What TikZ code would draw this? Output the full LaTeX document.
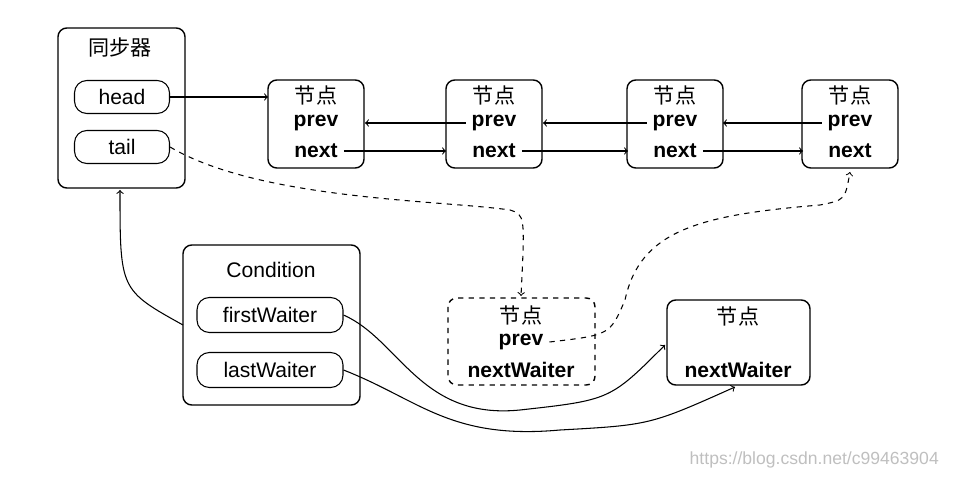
\documentclass[tikz,border=0pt]{standalone}
\usepackage{fontspec}
\setmainfont{Liberation Sans}
\newfontfamily\cjk{Noto Sans CJK SC}
\usetikzlibrary{positioning}
\tikzset{box/.style={draw, rounded corners=5pt, thick},
  lnk/.style={->, >=to, semithick}}
\begin{document}
\begin{tikzpicture}[x=0.02cm,y=-0.02cm, font=\large]
\useasboundingbox (0,0) rectangle (953,479);
% synchronizer
\draw[box] (58,28) rectangle (185,188);
\node at (120,48) {\cjk 同步器};
\node[draw, semithick, rounded corners=7pt, minimum width=1.9cm, minimum height=0.66cm] (head) at (122,97) {head};
\node[draw, semithick, rounded corners=7pt, minimum width=1.9cm, minimum height=0.66cm] (tail) at (122,147) {tail};
% nodes
\foreach \n/\x in {a/316, b/494, c/675, d/850} {
  \draw[box] (\x-48,80) rectangle (\x+48,168);
  \node at (\x,95) {\cjk 节点};
  \node[font=\large\bfseries] (\n p) at (\x,123) {prev};
  \node[font=\large\bfseries] (\n n) at (\x,151) {next};
}
\coordinate (aw) at (268,97);
\draw[lnk] (head) -- (aw);
\draw[lnk] (an.east) -- (446,151); \draw[lnk] (bp.west) -- (365,123);
\draw[lnk] (bn.east) -- (628,151); \draw[lnk] (cp.west) -- (543,123);
\draw[lnk] (cn.east) -- (803,151); \draw[lnk] (dp.west) -- (723,123);
% condition
\draw[box] (183,245) rectangle (360,405);
\node at (271,270) {Condition};
\node[draw, semithick, rounded corners=7pt, minimum width=2.92cm, minimum height=0.7cm] (first) at (270,315) {firstWaiter};
\node[draw, semithick, rounded corners=7pt, minimum width=2.92cm, minimum height=0.7cm] (last) at (270,370) {lastWaiter};
% waiter nodes
\draw[box, dashed] (448,298) rectangle (595,385);
\node at (521,315) {\cjk 节点};
\node[font=\large\bfseries] (wp) at (521,342) {prev};
\node[font=\large\bfseries] at (521,370) {nextWaiter};
\coordinate (wt) at (521,296);
\draw[box] (667,300) rectangle (810,385);
\node at (738,316) {\cjk 节点};
\node[font=\large\bfseries] at (738,370) {nextWaiter};
\coordinate (ql) at (665,345);
\coordinate (qb) at (735,387);
\coordinate (dd) at (850,172);
\coordinate (sb) at (120,190);
\coordinate (cl) at (183,325);
% connectors
\draw[lnk, dashed] (tail.east) .. controls (260,200) and (440,200) .. (510,210) .. controls (525,215) .. (wt);
\draw[lnk, dashed] (wp.east) .. controls (610,335) .. (625,300) .. controls (640,230) and (700,215) .. (820,205) .. controls (845,200) .. (dd);
\draw[lnk] (cl) .. controls (120,290) .. (sb);
\draw[lnk] (first.east) .. controls (400,340) and (420,420) .. (520,410) .. controls (610,400) .. (ql);
\draw[lnk] (last.east) .. controls (420,400) and (450,440) .. (560,430) .. controls (650,425) .. (qb);
\node[gray!50, font=\normalsize, anchor=east] at (945,460) {https://blog.csdn.net/c99463904};
\end{tikzpicture}
\end{document}
